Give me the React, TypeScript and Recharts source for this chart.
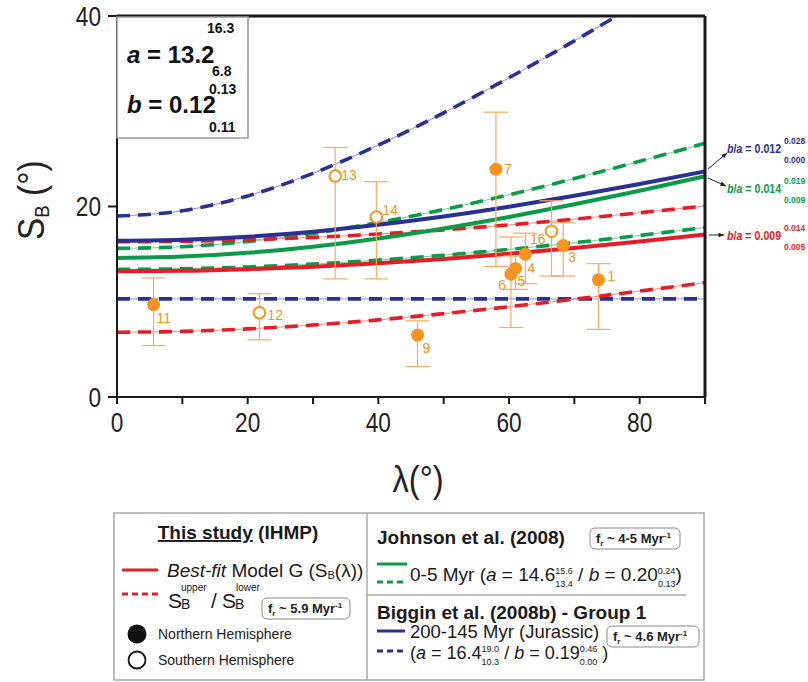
import React from "react";
import { ComposedChart, Line, Scatter, XAxis, YAxis, ErrorBar } from "recharts";

const lambdaGrid = [0, 10, 20, 30, 40, 50, 60, 70, 80, 90];

// This study (IHMP), model G
const ihmpBest = [13.2, 13.25, 13.42, 13.68, 14.05, 14.5, 15.04, 15.65, 16.32, 17.06];
const ihmpUpper = [16.3, 16.35, 16.51, 16.76, 17.11, 17.55, 18.07, 18.67, 19.34, 20.06];
const ihmpLower = [6.8, 6.89, 7.15, 7.56, 8.1, 8.75, 9.48, 10.27, 11.12, 12.01];

// Johnson et al. (2008), 0-5 Myr
const johnsonBest = [14.6, 14.74, 15.14, 15.78, 16.65, 17.7, 18.9, 20.23, 21.66, 23.18];
const johnsonUpper = [15.6, 15.78, 16.32, 17.18, 18.32, 19.68, 21.23, 22.93, 24.74, 26.64];
const johnsonLower = [13.4, 13.46, 13.65, 13.96, 14.37, 14.89, 15.5, 16.2, 16.96, 17.79];

// Biggin et al. (2008b), group 1
const bigginBest = [16.4, 16.51, 16.83, 17.36, 18.08, 18.95, 19.97, 21.12, 22.36, 23.69];
const bigginUpper = [19.0, 19.55, 21.11, 23.48, 26.45, 29.83, 33.51, 37.39, 41.42, 45.55];
const bigginLower = [10.3, 10.3, 10.3, 10.3, 10.3, 10.3, 10.3, 10.3, 10.3, 10.3];

// sites
const siteIds = ["1", "3", "4", "6", "5", "7", "9", "11", "12", "13", "14", "16"];
const siteLat = [73.7, 68.3, 62.5, 60.3, 61.0, 58.0, 46.0, 5.6, 21.8, 33.4, 39.7, 66.5];
const siteSB = [12.3, 15.9, 15.0, 12.9, 13.5, 23.9, 6.5, 9.7, 8.85, 23.2, 18.9, 17.4];
const siteLow = [7.1, 12.7, 11.9, 7.3, 11.3, 13.7, 3.2, 5.4, 6.0, 12.4, 12.4, 12.7];
const siteHigh = [14.0, 18.3, 17.2, 16.8, 14.8, 29.9, 8.0, 12.5, 10.85, 26.2, 22.6, 20.6];
const siteHemisphere = ["N", "N", "N", "N", "N", "N", "N", "N", "S", "S", "S", "S"];

const xTicks = [0, 10, 20, 30, 40, 50, 60, 70, 80, 90];
const yTicks = [0, 20, 40];
const yTicksRight = [10, 20, 30];

const RED = "#e41e26";
const RED_THIN = "#f08a8e";
const GREEN = "#0a9a48";
const GREEN_THIN = "#7cc99b";
const BLUE = "#2b3192";
const BLUE_THIN = "#8c8fd0";
const ORANGE = "#f7931e";
const ORANGE_BAR = "#f8aa62";
const AXIS = "#1a1a1a";

const SANS = '"Liberation Sans", Arial, sans-serif';

const curveData = lambdaGrid.map((lambda, i) => ({
  lambda,
  ihmpBest: ihmpBest[i],
  ihmpUpper: ihmpUpper[i],
  ihmpLower: ihmpLower[i],
  johnsonBest: johnsonBest[i],
  johnsonUpper: johnsonUpper[i],
  johnsonLower: johnsonLower[i],
  bigginBest: bigginBest[i],
  bigginUpper: bigginUpper[i],
  bigginLower: bigginLower[i],
}));

const sites = siteIds.map((id, i) => ({
  id,
  lambda: siteLat[i],
  sb: siteSB[i],
  err: [siteSB[i] - siteLow[i], siteHigh[i] - siteSB[i]],
  hemi: siteHemisphere[i],
}));
const northSites = sites.filter((s) => s.hemi === "N");
const southSites = sites.filter((s) => s.hemi === "S");

// where each site number sits relative to its marker
const labelPos: Record<string, [number, number, "start" | "end"]> = {
  "1": [9, -4, "start"],
  "3": [5, 11, "start"],
  "4": [2, 14, "start"],
  "5": [2, 12.5, "start"],
  "6": [-5, 11, "end"],
  "7": [8, 0, "start"],
  "9": [5, 12.5, "start"],
  "11": [3, 13, "start"],
  "12": [8, 2, "start"],
  "13": [6, -1, "start"],
  "14": [6, -7, "start"],
  "16": [-6, 8, "end"],
};

function siteShape(open: boolean) {
  return (p: any) => {
    const [dx, dy, anchor] = labelPos[p.payload.id] || [8, 0, "start"];
    return (
      <g>
        {open ? (
          <circle cx={p.cx} cy={p.cy} r={5.8} fill="#fff" stroke={ORANGE} strokeWidth={2} />
        ) : (
          <circle cx={p.cx} cy={p.cy} r={6.5} fill={ORANGE} />
        )}
        <text
          x={p.cx + dx}
          y={p.cy + dy}
          textAnchor={anchor}
          dominantBaseline="central"
          fontSize={14}
          fill={ORANGE}
          fontFamily={SANS}
        >
          {p.payload.id}
        </text>
      </g>
    );
  };
}

function dashedPair(key: string, color: string, thin: string) {
  return [
    <Line
      key={key + "-thin"}
      xAxisId="bottom"
      yAxisId="left"
      type="monotone"
      dataKey={key}
      stroke={thin}
      strokeWidth={1}
      dot={false}
      isAnimationActive={false}
    />,
    <Line
      key={key + "-dash"}
      xAxisId="bottom"
      yAxisId="left"
      type="monotone"
      dataKey={key}
      stroke={color}
      strokeWidth={3.6}
      strokeDasharray="13 8"
      dot={false}
      isAnimationActive={false}
    />,
  ];
}

function solid(key: string, color: string) {
  return (
    <Line
      key={key}
      xAxisId="bottom"
      yAxisId="left"
      type="monotone"
      dataKey={key}
      stroke={color}
      strokeWidth={4}
      dot={false}
      isAnimationActive={false}
    />
  );
}

// condensed tick numbers, like the narrow face of the original
const BottomTick = (p: any) => {
  const v = p.payload.value;
  if (v % 20 !== 0 || v >= 90) return <g />;
  return (
    <text
      transform={`translate(${p.x},${p.y}) scale(0.84,1)`}
      textAnchor="middle"
      dy="0.72em"
      fontSize={27}
      fill="#222"
      fontFamily={SANS}
    >
      {v}
    </text>
  );
};

const LeftTick = (p: any) => (
  <text
    transform={`translate(${p.x},${p.y}) scale(0.84,1)`}
    textAnchor="end"
    dy="0.36em"
    fontSize={27}
    fill="#222"
    fontFamily={SANS}
  >
    {p.payload.value}
  </text>
);

const RightTick = (p: any) => (
  <line x1={p.x} x2={p.x - 7} y1={p.y} y2={p.y} stroke={AXIS} strokeWidth={2} />
);

// a value with an upper bound stacked over a lower bound
function Bounds({ up, lo, size, rise, w }: { up: string; lo: string; size: number; rise: number; w: number }) {
  return (
    <>
      <tspan fontSize={size} dy={-rise}>{up}</tspan>
      <tspan fontSize={size} dx={-w} dy={rise * 2 - 1}>{lo}</tspan>
    </>
  );
}

function Badge({ x, y, w, text }: { x: number; y: number; w: number; text: string }) {
  return (
    <g>
      <rect x={x} y={y} width={w} height={21} rx={5} fill="#fff" stroke="#8a8a8a" strokeWidth={1} />
      <text x={x + 6} y={y + 15} fontSize={13} fontWeight="bold" fill="#222" fontFamily={SANS}>
        f<tspan fontSize={8} dy={3}>r</tspan>
        <tspan dy={-3}>{" ~ " + text + " Myr"}</tspan>
        <tspan fontSize={8} dy={-5}>-1</tspan>
      </text>
    </g>
  );
}

function Arrow({ x1, y1, x2, y2 }: { x1: number; y1: number; x2: number; y2: number }) {
  const a = Math.atan2(y2 - y1, x2 - x1);
  const h = 6;
  const p1 = [x2 - h * Math.cos(a - 0.4), y2 - h * Math.sin(a - 0.4)];
  const p2 = [x2 - h * Math.cos(a + 0.4), y2 - h * Math.sin(a + 0.4)];
  return (
    <g>
      <line x1={x1} y1={y1} x2={x2} y2={y2} stroke="#222" strokeWidth={1} />
      <polygon points={`${x2},${y2} ${p1[0]},${p1[1]} ${p2[0]},${p2[1]}`} fill="#222" />
    </g>
  );
}

function Ratio({ y, color, v, up, lo }: { y: number; color: string; v: string; up: string; lo: string }) {
  return (
    <g fill={color} fontFamily={SANS} fontWeight="bold">
      <text transform={`translate(727,${y}) scale(0.82,1)`} fontSize={13}>
        <tspan fontStyle="italic">b</tspan>/<tspan fontStyle="italic">a</tspan>
        {" = " + v}
      </text>
      <text x={784} y={y - 9} fontSize={8.5}>{up}</text>
      <text x={784} y={y + 10} fontSize={8.5}>{lo}</text>
    </g>
  );
}

function Overlay() {
  return (
    <svg
      width={808}
      height={682}
      style={{ position: "absolute", left: 0, top: 0, pointerEvents: "none", overflow: "hidden" }}
    >
      {/* axis titles */}
      <text transform="translate(44,240) rotate(-90) scale(0.9,1)" fontSize={37} fill="#222" fontFamily={SANS}>
        S<tspan fontSize={21} dy={5}>B</tspan>
        <tspan dy={-5}>{" (°)"}</tspan>
      </text>
      <text
        transform="translate(418,492) scale(0.88,1)"
        textAnchor="middle"
        fontSize={37}
        fill="#222"
        fontFamily={SANS}
      >
        λ(°)
      </text>

      {/* parameter inset */}
      <rect x={117} y={17} width={131} height={121} fill="#fff" stroke="#9a9a9a" strokeWidth={1.5} />
      <g fontFamily={SANS} fontWeight="bold" fill="#111">
        <text x={127} y={63} fontSize={24}>
          <tspan fontStyle="italic">a</tspan> = 13.2
        </text>
        <text x={207} y={33} fontSize={14}>16.3</text>
        <text x={212} y={76} fontSize={14}>6.8</text>
        <text x={127} y={113} fontSize={24}>
          <tspan fontStyle="italic">b</tspan> = 0.12
        </text>
        <text x={209} y={94} fontSize={14}>0.13</text>
        <text x={209} y={132} fontSize={14}>0.11</text>
      </g>

      {/* b/a annotations */}
      <Arrow x1={708} y1={169} x2={727} y2={153} />
      <Arrow x1={708} y1={178} x2={726} y2={186} />
      <Arrow x1={709} y1={235} x2={724} y2={235} />
      <Ratio y={153} color={BLUE} v="0.012" up="0.028" lo="0.000" />
      <Ratio y={193} color={GREEN} v="0.014" up="0.019" lo="0.009" />
      <Ratio y={240} color={RED} v="0.009" up="0.014" lo="0.005" />

      {/* legend */}
      <rect x={114} y={513} width={590} height={167} fill="#fff" stroke="#a8a8a8" strokeWidth={1.5} />
      <line x1={367} y1={513} x2={367} y2={680} stroke="#a8a8a8" strokeWidth={1.5} />
      <line x1={367} y1={595} x2={686} y2={595} stroke="#a8a8a8" strokeWidth={1.5} />

      <g fontFamily={SANS} fill="#1a1a1a">
        <text x={238} y={539} textAnchor="middle" fontSize={19} fontWeight="bold">
          <tspan textDecoration="underline">This study</tspan> (IHMP)
        </text>
        <line x1={122} y1={570} x2={158} y2={570} stroke={RED} strokeWidth={3} />
        <text x={167} y={577} fontSize={19}>
          <tspan fontStyle="italic">Best-fit</tspan> Model G (S<tspan fontSize={11} dy={2}>B</tspan>
          <tspan dy={-2}>(λ))</tspan>
        </text>
        <line x1={122} y1={594} x2={158} y2={594} stroke={RED} strokeWidth={3} strokeDasharray="6 4" />
        <text x={168} y={608} fontSize={21}>S</text>
        <text x={181} y={609} fontSize={14}>B</text>
        <text x={181} y={591} fontSize={10}>upper</text>
        <text x={211} y={608} fontSize={21}>/</text>
        <text x={222} y={608} fontSize={21}>S</text>
        <text x={235} y={609} fontSize={14}>B</text>
        <text x={236} y={591} fontSize={10}>lower</text>
        <Badge x={262} y={598} w={88} text="5.9" />
        <circle cx={137} cy={634} r={9.5} fill="#111" />
        <text x={158} y={639} fontSize={14}>Northern Hemisphere</text>
        <circle cx={137} cy={660} r={8.5} fill="#fff" stroke="#111" strokeWidth={1.8} />
        <text x={158} y={665} fontSize={14}>Southern Hemisphere</text>

        <text x={377} y={544} fontSize={19} fontWeight="bold">Johnson et al. (2008)</text>
        <Badge x={590} y={528} w={90} text="4-5" />
        <line x1={377} y1={564} x2={407} y2={564} stroke={GREEN} strokeWidth={3} />
        <line x1={377} y1={582} x2={407} y2={582} stroke={GREEN} strokeWidth={3} strokeDasharray="6 4" />
        <text x={410} y={581} fontSize={19}>
          0-5 Myr (<tspan fontStyle="italic">a</tspan> = 14.6
          <Bounds up="15.6" lo="13.4" size={9} rise={7} w={17.5} />
          <tspan dy={-6}>{" / "}</tspan>
          <tspan fontStyle="italic">b</tspan> = 0.20
          <Bounds up="0.24" lo="0.13" size={9} rise={7} w={17.5} />
          <tspan dy={-6}>)</tspan>
        </text>

        <text x={377} y={619} fontSize={19} fontWeight="bold">Biggin et al. (2008b) - Group 1</text>
        <line x1={377} y1={631} x2={405} y2={631} stroke={BLUE} strokeWidth={3} />
        <text x={410} y={638} fontSize={18.5}>200-145 Myr (Jurassic)</text>
        <Badge x={607} y={626} w={92} text="4.6" />
        <line x1={377} y1={651} x2={405} y2={651} stroke={BLUE} strokeWidth={3} strokeDasharray="6 4" />
        <text x={410} y={659} fontSize={18}>
          (<tspan fontStyle="italic">a</tspan> = 16.4
          <Bounds up="19.0" lo="10.3" size={9} rise={7} w={17.5} />
          <tspan dy={-6}>{" / "}</tspan>
          <tspan fontStyle="italic">b</tspan> = 0.19
          <Bounds up="0.46" lo="0.00" size={9} rise={7} w={17.5} />
          <tspan dy={-6}>{" )"}</tspan>
        </text>
      </g>
    </svg>
  );
}

export default function App() {
  return (
    <div style={{ position: "absolute", left: 0, top: 0, width: 808, height: 682, background: "#fff" }}>
      <ComposedChart width={808} height={440} data={curveData} margin={{ top: 15, right: 0, bottom: 0, left: 0 }}>
        <XAxis
          xAxisId="bottom"
          type="number"
          dataKey="lambda"
          domain={[0, 90]}
          ticks={xTicks}
          interval={0}
          height={43}
          tickSize={7}
          tickMargin={9}
          axisLine={{ stroke: AXIS, strokeWidth: 2 }}
          tickLine={{ stroke: AXIS, strokeWidth: 2 }}
          tick={BottomTick}
        />
        <XAxis
          xAxisId="top"
          orientation="top"
          type="number"
          domain={[0, 90]}
          height={1}
          tick={false}
          tickLine={false}
          axisLine={{ stroke: AXIS, strokeWidth: 3 }}
        />
        <YAxis
          yAxisId="left"
          type="number"
          domain={[0, 40]}
          ticks={yTicks}
          allowDataOverflow
          width={117}
          tickSize={9}
          tickMargin={7}
          axisLine={{ stroke: AXIS, strokeWidth: 2 }}
          tickLine={{ stroke: AXIS, strokeWidth: 2 }}
          tick={LeftTick}
        />
        <YAxis
          yAxisId="right"
          orientation="right"
          type="number"
          domain={[0, 40]}
          ticks={yTicksRight}
          width={103}
          tickSize={0}
          tickMargin={0}
          tickLine={false}
          tick={RightTick}
          axisLine={{ stroke: AXIS, strokeWidth: 3 }}
        />

        {dashedPair("bigginUpper", BLUE, BLUE_THIN)}
        {dashedPair("bigginLower", BLUE, BLUE_THIN)}
        {dashedPair("johnsonUpper", GREEN, GREEN_THIN)}
        {dashedPair("johnsonLower", GREEN, GREEN_THIN)}
        {dashedPair("ihmpUpper", RED, RED_THIN)}
        {dashedPair("ihmpLower", RED, RED_THIN)}
        {solid("johnsonBest", GREEN)}
        {solid("bigginBest", BLUE)}
        {solid("ihmpBest", RED)}

        <Scatter
          xAxisId="bottom"
          yAxisId="left"
          data={northSites}
          dataKey="sb"
          shape={siteShape(false)}
          isAnimationActive={false}
        >
          <ErrorBar dataKey="err" direction="y" width={12} stroke={ORANGE_BAR} strokeWidth={1.2} />
        </Scatter>
        <Scatter
          xAxisId="bottom"
          yAxisId="left"
          data={southSites}
          dataKey="sb"
          shape={siteShape(true)}
          isAnimationActive={false}
        >
          <ErrorBar dataKey="err" direction="y" width={12} stroke={ORANGE_BAR} strokeWidth={1.2} />
        </Scatter>
      </ComposedChart>
      <Overlay />
    </div>
  );
}
